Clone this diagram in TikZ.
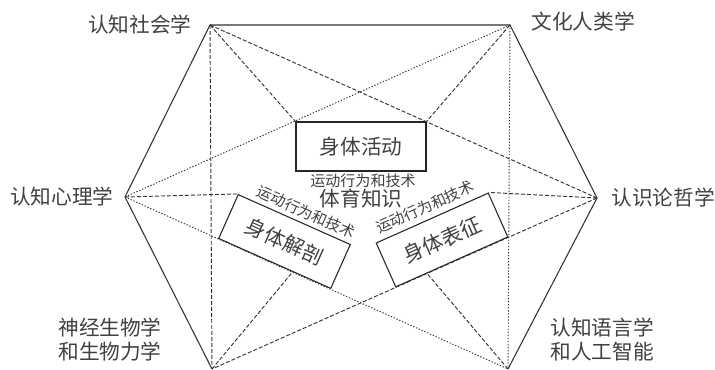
\documentclass[tikz,border=0pt]{standalone}
\usepackage{fontspec}
\newfontfamily\cjk{Noto Sans CJK SC}
\usetikzlibrary{calc}
\begin{document}
\begin{tikzpicture}[x=0.75pt,y=-0.75pt,
  solidline/.style={draw=black!80,line width=0.8pt},
  dashline/.style={draw=black!80,line width=0.7pt,dash pattern=on 3pt off 1.5pt},
  dotline/.style={draw=black!80,line width=0.7pt,dash pattern=on 1pt off 1.3pt},
  lbl/.style={font=\cjk\fontsize{15.5}{18}\selectfont,text=black!75,inner sep=0pt,align=center},
  small/.style={font=\cjk\fontsize{11.3}{13}\selectfont,text=black!75,inner sep=0pt},
  box/.style={draw=black!85,line width=0.8pt,inner sep=0pt,font=\cjk\fontsize{15.5}{18}\selectfont,text=black!75}]
\useasboundingbox (0,0) rectangle (715,370);
\coordinate (TL) at (210,25);
\coordinate (TR) at (510,25);
\coordinate (L) at (125,197);
\coordinate (R) at (597,198);
\coordinate (BL) at (212,369);
\coordinate (BR) at (508,369);

\node[box,minimum width=97.5pt,minimum height=36.75pt] (hd) at (361,146.5) {身体活动};
\node[box,minimum width=92pt,minimum height=36pt,rotate=-24] (jp) at (284.5,241.5) {身体解剖};
\node[box,minimum width=92pt,minimum height=36pt,rotate=24] (bz) at (442,240) {身体表征};

\draw[solidline] (L) -- (TL) -- (TR) -- (R) -- (BR);
\draw[solidline] (L) -- (BL);

\draw[dashline] (TL) -- (BL);
\draw[dotline] (TR) -- (BR);
\draw[dashline] (TL) -- (hd.north west);
\draw[dashline] (TR) -- (hd.north east);
\draw[dashline] (TL) -- (R);
\draw[dotline] (TR) -- (L);
\draw[dashline] (L) -- (jp.north west);
\draw[dotline] (L) -- (BR);
\draw[dashline] (R) -- (bz.north east);
\draw[dashline] (R) -- (BL);
\draw[dashline] (BL) -- ($(jp.south west)!0.66!(jp.south east)$);
\draw[dashline] (BR) -- ($(bz.south west)!0.28!(bz.south east)$);

\node[small] (t1) at (363,181) {运动行为和技术};
\node[small,rotate=-24] (t2) at (306,212) {运动行为和技术};
\node[small,rotate=24] (t3) at (425,207) {运动行为和技术};
\node[lbl] (ty) at (361,199) {体育知识};

\node[lbl] (n1) at (140,25) {认知社会学};
\node[lbl] (n2) at (583,22) {文化人类学};
\node[lbl] (n3) at (62,197) {认知心理学};
\node[lbl] (n4) at (663,198) {认识论哲学};
\node[lbl] (n5) at (110,340) {神经生物学\\和生物力学};
\node[lbl] (n6) at (602,340) {认知语言学\\和人工智能};
\end{tikzpicture}
\end{document}
